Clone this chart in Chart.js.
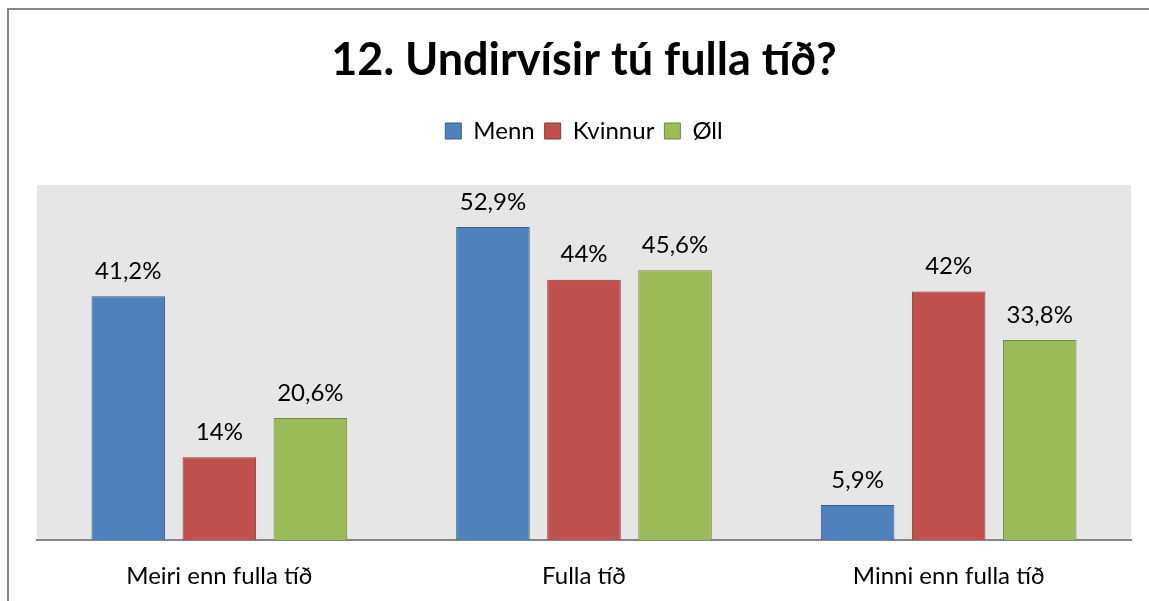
<!DOCTYPE html>
<html>
<head>
<meta charset="utf-8">
<script src="https://cdn.jsdelivr.net/npm/chart.js@4"></script>
<style>
  html, body { margin: 0; padding: 0; background: #fff; }
  #wrap { position: relative; width: 1149px; height: 601px; }
</style>
</head>
<body>
<div id="wrap"><canvas id="myChart" width="1149" height="601"></canvas></div>
<script>
// categories and series
const categories = ['Meiri enn fulla tíð', 'Fulla tíð', 'Minni enn fulla tíð'];
const menn = [41.2, 52.9, 5.9];
const kvinnur = [14, 44, 42];
const oll = [20.6, 45.6, 33.8];

function fmt(v) {
    return String(v).replace('.', ',') + '%';
}

// frame lines + grey plot area
const backdrop = {
    id: 'backdrop',
    beforeDraw(chart) {
        const c = chart.ctx, a = chart.chartArea;
        c.save();
        c.fillStyle = '#e6e6e6';
        c.fillRect(a.left, a.top, a.right - a.left, a.bottom - a.top);
        c.strokeStyle = '#878787';
        c.lineWidth = 2;
        c.beginPath();
        c.moveTo(8, 601);
        c.lineTo(8, 9);
        c.lineTo(1149, 9);
        c.stroke();
        c.restore();
    }
};

const valueLabels = {
    id: 'valueLabels',
    afterDatasetsDraw(chart) {
        const c = chart.ctx;
        c.save();
        c.font = '24px Lato';
        c.fillStyle = '#000';
        c.textAlign = 'center';
        c.textBaseline = 'bottom';
        chart.data.datasets.forEach((ds, i) => {
            chart.getDatasetMeta(i).data.forEach((bar, j) => {
                c.fillText(fmt(ds.data[j]), bar.x, bar.y - 13);
            });
        });
        c.restore();
    }
};

const graph_data = {
    labels: categories,
    datasets: [{
        label: 'Menn',
        data: menn,
        backgroundColor: '#4f81bd',
        borderColor: '#385d8a',
        borderWidth: 1
    }, {
        label: 'Kvinnur',
        data: kvinnur,
        backgroundColor: '#c0504d',
        borderColor: '#8c3836',
        borderWidth: 1
    }, {
        label: 'Øll',
        data: oll,
        backgroundColor: '#9bbb59',
        borderColor: '#71893f',
        borderWidth: 1
    }]
};

const config = {
    type: 'bar',
    data: graph_data,
    options: {
        responsive: false,
        animation: false,
        layout: { padding: { left: 37, right: 18, top: 0, bottom: 0 } },
        datasets: {
            bar: { categoryPercentage: 0.749, barPercentage: 0.808 }
        },
        scales: {
            x: {
                grid: { display: false, drawTicks: false },
                border: { display: true, color: '#868686', width: 2 },
                ticks: { color: '#000', font: { family: 'Lato', size: 24 }, padding: 22 },
                afterFit(s) { s.height = 61; }
            },
            y: {
                display: false,
                min: 0,
                max: 60
            }
        },
        plugins: {
            title: {
                display: true,
                text: '12. Undirvísir tú fulla tíð?',
                color: '#000',
                font: { family: 'Lato', size: 45, weight: 'bold' },
                padding: { top: 33, bottom: 22 }
            },
            // empty subtitle used only as a spacer between legend and plot
            subtitle: {
                display: true,
                text: ' ',
                weight: 500,
                font: { size: 10 },
                padding: { top: 0, bottom: 20 }
            },
            legend: {
                labels: {
                    color: '#000',
                    font: { family: 'Lato', size: 24 },
                    boxWidth: 16,
                    boxHeight: 16,
                    padding: 10
                }
            },
            tooltip: { enabled: false }
        }
    },
    plugins: [backdrop, valueLabels]
};

var ctx = document.getElementById('myChart').getContext('2d');
var myChart = new Chart(ctx, config);
console.log(myChart.chartArea);
</script>
</body>
</html>
